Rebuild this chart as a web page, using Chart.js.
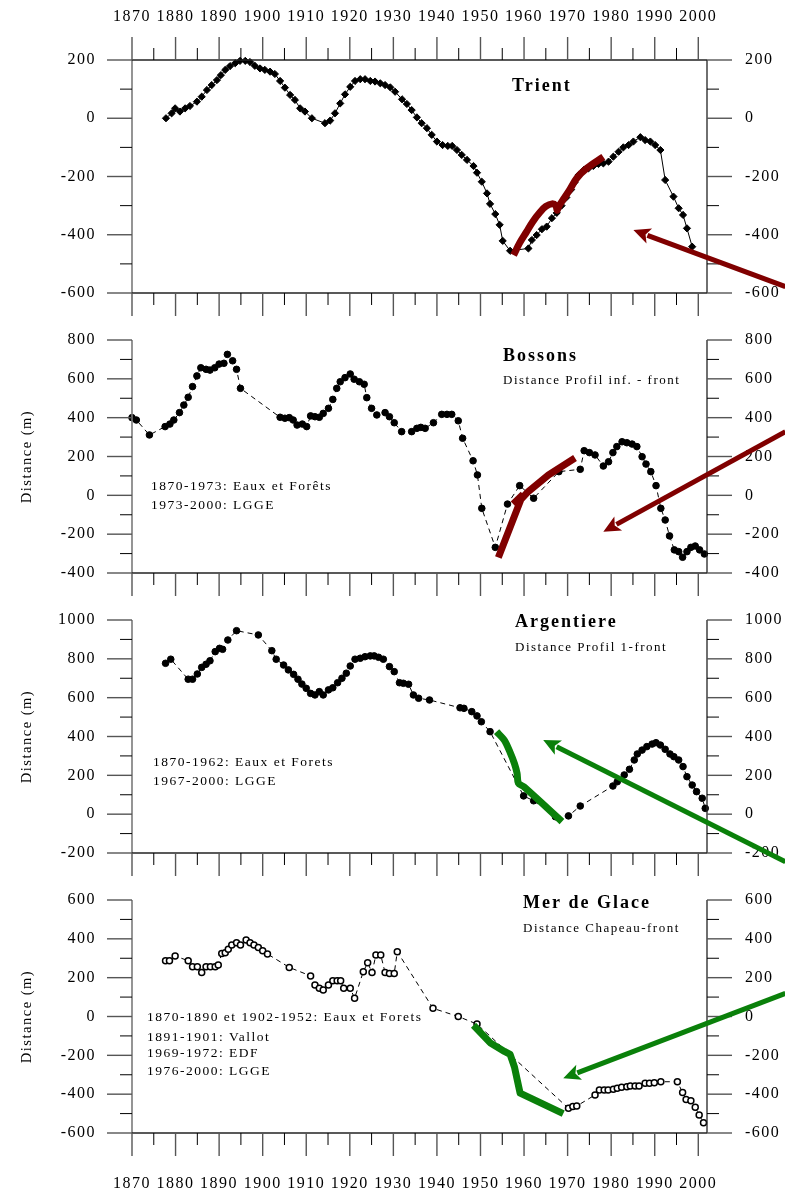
<!DOCTYPE html>
<html><head><meta charset="utf-8">
<script src="https://cdn.jsdelivr.net/npm/chart.js@4/dist/chart.umd.min.js"></script>
<style>
html,body{margin:0;padding:0;background:#fff;}
body{width:785px;height:1191px;position:relative;overflow:hidden;}
canvas{position:absolute;left:0;}
</style></head><body>
<canvas id="c1"></canvas><canvas id="c2"></canvas><canvas id="c3"></canvas><canvas id="c4"></canvas>
<script>
const FONT = "'Liberation Serif','Times New Roman',serif";
const yearMin = 1870, yearMax = 2002;

// ---------- Trient ----------
const trientYears = [1877.8,1879.1,1879.9,1881,1882.2,1883.3,1884.9,1886,1887.2,1888.3,1889.5,1890.4,1891.4,1892.5,1893.7,1894.8,1896,1897.1,1898.2,1899.4,1900.5,1901.7,1902.8,1904,1905.1,1906.3,1907.4,1908.6,1909.7,1911.3,1914.3,1915.5,1916.6,1917.8,1918.9,1920.1,1921.2,1922.4,1923.5,1924.7,1925.8,1927,1928.1,1929.3,1930.4,1932,1933.1,1934.2,1935.4,1936.5,1937.7,1938.8,1940,1941.3,1942.5,1943.5,1944.6,1945.7,1946.9,1948.4,1949.2,1950.3,1951.5,1952.2,1953.4,1954.4,1955.1,1956.8,1961,1961.8,1962.9,1964.1,1965.2,1966.4,1967.5,1968.6,1969.7,1970.8,1971.6,1972.5,1973.7,1974.8,1975.9,1977.1,1978.2,1979.4,1980.5,1981.7,1982.8,1984,1985.1,1986.7,1987.8,1989,1990.1,1991.3,1992.4,1994.3,1995.5,1996.5,1997.4,1998.6];
const trientDist = [0,17,34,23,34,42,57,74,97,114,131,148,166,179,189,197,197,193,180,171,166,160,152,128,105,80,63,34,23,0,-17,-8,17,51,82,108,128,134,134,128,126,120,114,106,91,65,49,28,3,-17,-34,-57,-80,-92,-95,-95,-109,-126,-143,-164,-187,-218,-258,-294,-329,-366,-421,-455,-447,-418,-401,-381,-372,-343,-325,-300,-272,-245,-220,-195,-178,-172,-164,-157,-155,-149,-132,-115,-100,-92,-80,-65,-75,-80,-92,-109,-212,-269,-309,-332,-378,-441];
const trientCurveYears = [1957.6,1959,1960.6,1962,1963.7,1965,1966.4,1967.3,1967.6,1968,1969,1970.5,1972.1,1974.4,1978.2];
const trientCurveDist  = [-470,-428,-389,-355,-322,-303,-294,-300,-316,-302,-279,-245,-206,-172,-133];
const trientArrowYears = [2020,1985.1];
const trientArrowDist  = [-578,-384];

// ---------- Bossons ----------
const bossonsYears = [1870,1871,1874,1877.6,1878.7,1879.6,1880.9,1881.9,1882.9,1883.9,1884.9,1885.8,1887,1887.9,1889,1890,1891.1,1891.9,1893.1,1894,1894.9,1904,1905.1,1906.1,1907,1907.9,1909.1,1910.1,1911,1912,1913,1913.9,1915.1,1916.1,1917,1917.8,1918.9,1920.1,1921,1922.2,1923.3,1923.9,1925,1926.2,1928.1,1929.1,1930.2,1931.9,1934.2,1935.4,1936.3,1937.3,1939.2,1941.1,1942.3,1943.4,1944.9,1945.9,1948.3,1949.3,1950.3,1953.4,1956.2,1959,1962.2,1968,1972.9,1973.8,1975,1976.3,1978.2,1979.4,1980.4,1981.3,1982.5,1983.6,1984.8,1985.9,1987.1,1988,1989.1,1990.3,1991.4,1992.4,1993.4,1994.5,1995.5,1996.4,1997.4,1998.3,1999.3,2000.3,2001.4];
const bossonsDist = [400,388,311,354,367,388,426,465,505,560,615,657,649,645,657,676,680,726,693,649,551,402,397,400,388,362,367,354,409,405,402,422,448,494,551,585,606,625,598,585,572,503,448,414,426,405,374,328,328,345,350,345,374,417,417,417,384,294,178,105,-67,-268,-45,50,-15,122,134,230,220,208,151,173,220,251,276,271,264,251,199,161,122,50,-67,-127,-209,-281,-290,-319,-290,-268,-261,-281,-302];
const bossonsCurveYears = [1954.1,1959.3,1961,1965.6,1971.7];
const bossonsCurveDist  = [-320,-20,20,105,192];
const bossonsStubYears = [1957.5,1959.8];
const bossonsStubDist  = [-45,5];
const bossonsArrowYears = [2020,1978.2];
const bossonsArrowDist  = [328,-187];

// ---------- Argentiere ----------
const argYears = [1877.7,1878.9,1882.9,1883.9,1885,1886,1887,1887.9,1889.1,1890.1,1890.8,1892,1894,1899,1902.1,1903.1,1904.8,1905.9,1907.1,1908.1,1909,1910,1911,1912,1913,1913.9,1915.1,1916.1,1917.2,1918.2,1919.2,1920.1,1921.2,1922.4,1923.5,1924.7,1925.6,1926.6,1927.7,1929.1,1930.2,1931.4,1932.3,1933.5,1934.6,1935.8,1938.3,1945.3,1946.2,1948,1949.2,1950.2,1952.2,1959.9,1962.2,1967.2,1970.2,1972.9,1980.4,1981.4,1983,1984.2,1985.3,1986,1987.1,1988.2,1989.4,1990.3,1991.3,1992.4,1993.5,1994.4,1995.5,1996.5,1997.4,1998.6,1999.6,2000.9,2001.6];
const argDist = [777,798,695,695,722,756,772,790,837,854,849,897,945,923,842,798,768,743,720,695,670,648,622,614,631,614,640,651,677,700,726,763,798,803,811,815,815,808,798,760,734,677,674,669,614,597,588,548,545,528,506,476,425,94,69,-13,-9,42,145,167,202,231,279,310,330,348,361,368,356,334,310,296,279,245,193,150,116,82,30];
const argCurveYears = [1953.7,1955.5,1956.8,1957.8,1958.4,1958.7,1960,1968.7];
const argCurveDist  = [425,380,318,260,210,160,140,-38];
const argArrowYears = [2020,1964.4];
const argArrowDist  = [-245,382];

// ---------- Mer de Glace ----------
const mdgYears = [1877.7,1878.6,1879.9,1882.9,1883.9,1885,1886,1887,1888,1889.1,1889.8,1890.6,1891.4,1892.1,1892.9,1894,1894.9,1896.2,1897.1,1898,1899,1900,1901.1,1906.1,1911,1912,1913,1913.9,1915.1,1916.1,1917.1,1917.9,1918.6,1920.1,1921.1,1923.1,1924.1,1925.1,1926,1927.1,1928.1,1929.1,1930.2,1930.9,1939.1,1944.9,1949.2,1970.2,1971.2,1972.1,1976.3,1977.3,1978.4,1979.3,1980.5,1981.4,1982.4,1983.6,1984.4,1985.5,1986.4,1987.8,1988.8,1989.9,1991.4,1995.2,1996.4,1997.2,1998.3,1999.3,2000.2,2001.2];
const mdgDist = [287,287,312,287,256,256,226,256,256,256,265,325,328,346,368,380,368,394,380,368,356,339,322,253,209,162,145,136,162,184,184,184,145,145,94,231,277,226,317,317,226,222,222,334,42,0,-39,-473,-464,-461,-404,-379,-379,-379,-375,-370,-365,-362,-358,-358,-358,-344,-344,-341,-336,-336,-392,-427,-434,-468,-507,-547];
const mdgCurveYears = [1948.4,1952.2,1955.5,1956.8,1957.8,1959.1,1969];
const mdgCurveDist  = [-45,-135,-180,-195,-260,-395,-500];
const mdgArrowYears = [2020,1969];
const mdgArrowDist  = [119,-318];

const RED = '#800000', GREEN = '#0a800a';

function pts(xs, ys){ return xs.map((x,i)=>({x:x, y:ys[i]})); }

const panels = [
  {id:'c1', top:0, height:318, padTop:0, xHeight:25, topAxis:true, bottomLabels:false, yMin:-600, yMax:200, yTitle:false,
   series:[trientYears,trientDist], style:'diamond',
   curves:[[trientCurveYears,trientCurveDist,0.35]], color:RED, arrow:[trientArrowYears,trientArrowDist],
   texts:[{t:'Trient',x:512,y:86,k:'b'}]},
  {id:'c2', top:318, height:280, padTop:22, xHeight:25, topAxis:false, bottomLabels:false, yMin:-400, yMax:800, yTitle:true,
   series:[bossonsYears,bossonsDist], style:'dot',
   curves:[[bossonsCurveYears,bossonsCurveDist,0],[bossonsStubYears,bossonsStubDist,0]], color:RED, arrow:[bossonsArrowYears,bossonsArrowDist],
   texts:[{t:'Bossons',x:503,y:38,k:'b'},{t:'Distance Profil inf. - front',x:503,y:63,k:'s'},
          {t:'1870-1973: Eaux et Forêts',x:151,y:168,k:'n'},{t:'1973-2000: LGGE',x:151,y:187,k:'n'}]},
  {id:'c3', top:598, height:280, padTop:22, xHeight:25, topAxis:false, bottomLabels:false, yMin:-200, yMax:1000, yTitle:true,
   series:[argYears,argDist], style:'dot',
   curves:[[argCurveYears,argCurveDist,0.3]], color:GREEN, arrow:[argArrowYears,argArrowDist],
   texts:[{t:'Argentiere',x:515,y:24,k:'b'},{t:'Distance Profil 1-front',x:515,y:50,k:'s'},
          {t:'1870-1962: Eaux et Forets',x:153,y:164,k:'n'},{t:'1967-2000: LGGE',x:153,y:183,k:'n'}]},
  {id:'c4', top:878, height:313, padTop:22, xHeight:58, topAxis:false, bottomLabels:true, yMin:-600, yMax:600, yTitle:true,
   series:[mdgYears,mdgDist], style:'open',
   curves:[[mdgCurveYears,mdgCurveDist,0]], color:GREEN, arrow:[mdgArrowYears,mdgArrowDist],
   texts:[{t:'Mer de Glace',x:523,y:25,k:'b'},{t:'Distance Chapeau-front',x:523,y:51,k:'s'},
          {t:'1870-1890 et 1902-1952: Eaux et Forets',x:147,y:139,k:'n'},{t:'1891-1901: Vallot',x:147,y:159,k:'n'},
          {t:'1969-1972: EDF',x:147,y:175,k:'n'},{t:'1976-2000: LGGE',x:147,y:193,k:'n'}]}
];

const SPACING = '1.5px';
const spacingPlugin = {
  id:'spacing',
  beforeUpdate(c){ c.ctx.letterSpacing = SPACING; },
  beforeDraw(c){ c.ctx.letterSpacing = SPACING; }
};

function seg(ctx,x0,y0,x1,y1){ ctx.beginPath(); ctx.moveTo(x0,y0); ctx.lineTo(x1,y1); ctx.stroke(); }

function drawArrow(ctx,x0,y0,x1,y1,color){
  const ang = Math.atan2(y1-y0, x1-x0), hl = 17, hw = 8;
  const bx = x1 - hl*Math.cos(ang), by = y1 - hl*Math.sin(ang);
  ctx.strokeStyle = color; ctx.lineWidth = 5; ctx.lineCap = 'butt';
  seg(ctx,x0,y0,bx+2*Math.cos(ang),by+2*Math.sin(ang));
  ctx.fillStyle = color; ctx.beginPath(); ctx.moveTo(x1,y1);
  ctx.lineTo(bx + hw*Math.sin(ang), by - hw*Math.cos(ang));
  ctx.lineTo(bx + 4*Math.cos(ang), by + 4*Math.sin(ang));
  ctx.lineTo(bx - hw*Math.sin(ang), by + hw*Math.cos(ang));
  ctx.closePath(); ctx.fill();
}

function buildChart(p){
  const cv = document.getElementById(p.id);
  cv.width = 785; cv.height = p.height;
  cv.style.width = '785px'; cv.style.height = p.height+'px'; cv.style.top = p.top+'px';

  const tickFont = {family:FONT, size:16};
  const hiddenGrid = (len)=>({display:false, drawTicks:true, tickLength:len});
  const scales = {
    x: {type:'linear', position:'bottom', min:yearMin, max:yearMax,
        grid:hiddenGrid(39), border:{display:false},
        ticks:{display:p.bottomLabels, stepSize:10, includeBounds:false, autoSkip:false, maxRotation:0, minRotation:0,
               padding:2, color:'#000', font:tickFont, callback:v=>String(v)},
        afterFit:s=>{ s.height = p.xHeight; }},
    y: {type:'linear', position:'left', min:p.yMin, max:p.yMax,
        grid:hiddenGrid(34), border:{display:false},
        ticks:{stepSize:200, padding:2, color:'#000', font:tickFont, callback:v=>String(v)},
        title:{display:p.yTitle, text:'Distance (m)', color:'#000', font:{family:FONT,size:14.5}, padding:{top:18,bottom:0}},
        afterFit:s=>{ s.width = 132; }},
    yR: {type:'linear', position:'right', min:p.yMin, max:p.yMax,
        grid:hiddenGrid(36), border:{display:false},
        ticks:{stepSize:200, padding:2, color:'#000', font:tickFont, callback:v=>String(v)},
        afterFit:s=>{ s.width = 78; }}
  };
  if (p.topAxis){
    scales.xT = {type:'linear', position:'top', min:yearMin, max:yearMax,
        grid:hiddenGrid(32), border:{display:false},
        ticks:{stepSize:10, includeBounds:false, autoSkip:false, maxRotation:0, minRotation:0,
               padding:2, color:'#000', font:tickFont, callback:v=>String(v)},
        afterFit:s=>{ s.height = 60; }};
  }

  const ds = [];
  p.curves.forEach(c=>{
    ds.push({data:pts(c[0],c[1]), borderColor:p.color, borderWidth:7, pointRadius:0, tension:c[2],
             borderJoinStyle:'round', borderCapStyle:'butt', order:0, clip:false, xAxisID:'x', yAxisID:'y'});
  });
  const d = {data:pts(p.series[0],p.series[1]), borderColor:'#000', borderWidth:1, tension:0, order:1,
             xAxisID:'x', yAxisID:'y', clip:false};
  if (p.style==='diamond'){
    Object.assign(d,{pointStyle:'rectRot', pointRadius:3.6, pointBackgroundColor:'#000', pointBorderColor:'#000', pointBorderWidth:1});
  } else if (p.style==='dot'){
    Object.assign(d,{borderDash:[5,4], pointStyle:'circle', pointRadius:3.3, pointBackgroundColor:'#000', pointBorderColor:'#000', pointBorderWidth:1});
  } else {
    Object.assign(d,{borderDash:[5,4], pointStyle:'circle', pointRadius:3, pointBackgroundColor:'#fff', pointBorderColor:'#000', pointBorderWidth:1.5});
  }
  ds.push(d);

  const framePlugin = {
    id:'frame',
    afterDraw(chart){
      const ctx = chart.ctx, ca = chart.chartArea, xs = chart.scales.x, ys = chart.scales.y;
      ctx.save();
      ctx.lineCap = 'butt';
      ctx.strokeStyle = '#7a7a7a'; ctx.lineWidth = 1.6;
      seg(ctx, ca.left, ca.top, ca.left, ca.bottom);
      ctx.strokeStyle = '#222'; ctx.lineWidth = 1.3;
      seg(ctx, ca.right, ca.top, ca.right, ca.bottom);
      seg(ctx, ca.left, ca.bottom, ca.right, ca.bottom);
      if (p.topAxis) seg(ctx, ca.left, ca.top, ca.right, ca.top);
      for (let v = p.yMin; v <= p.yMax; v += 100){
        const py = ys.getPixelForValue(v);
        const major = (v % 200) === 0;
        const len = major ? 25 : 12;
        ctx.strokeStyle = major ? '#555' : '#000'; ctx.lineWidth = major ? 1.4 : 1;
        seg(ctx, ca.left - len, py, ca.left, py);
        seg(ctx, ca.right, py, ca.right + len, py);
      }
      for (let yr = 1870; yr <= 2000; yr += 5){
        const px = xs.getPixelForValue(yr);
        const major = (yr % 10) === 0;
        const len = major ? 23 : 12;
        ctx.strokeStyle = major ? '#555' : '#000'; ctx.lineWidth = major ? 1.4 : 1;
        seg(ctx, px, ca.bottom, px, ca.bottom + len);
        if (p.topAxis) seg(ctx, px, ca.top - len, px, ca.top);
      }
      ctx.fillStyle = '#000'; ctx.textAlign = 'left'; ctx.textBaseline = 'middle';
      p.texts.forEach(t=>{
        if (t.k==='b'){ ctx.font = 'bold 18px '+FONT; ctx.letterSpacing = '2px'; }
        else if (t.k==='s'){ ctx.font = '13px '+FONT; ctx.letterSpacing = '1.5px'; }
        else { ctx.font = '13.5px '+FONT; ctx.letterSpacing = '1.5px'; }
        ctx.fillText(t.t, t.x, t.y);
      });
      ctx.letterSpacing = SPACING;
      const a = p.arrow;
      drawArrow(ctx, xs.getPixelForValue(a[0][0]), ys.getPixelForValue(a[1][0]),
                     xs.getPixelForValue(a[0][1]), ys.getPixelForValue(a[1][1]), p.color);
      ctx.restore();
    }
  };

  return new Chart(cv, {
    type:'line',
    data:{datasets:ds},
    options:{
      responsive:false, animation:false, devicePixelRatio:1,
      layout:{padding:{top:p.padTop, left:0, right:0, bottom:0}},
      plugins:{legend:{display:false}, tooltip:{enabled:false}},
      scales:scales
    },
    plugins:[spacingPlugin, framePlugin]
  });
}

panels.forEach(buildChart);
</script>
</body></html>
